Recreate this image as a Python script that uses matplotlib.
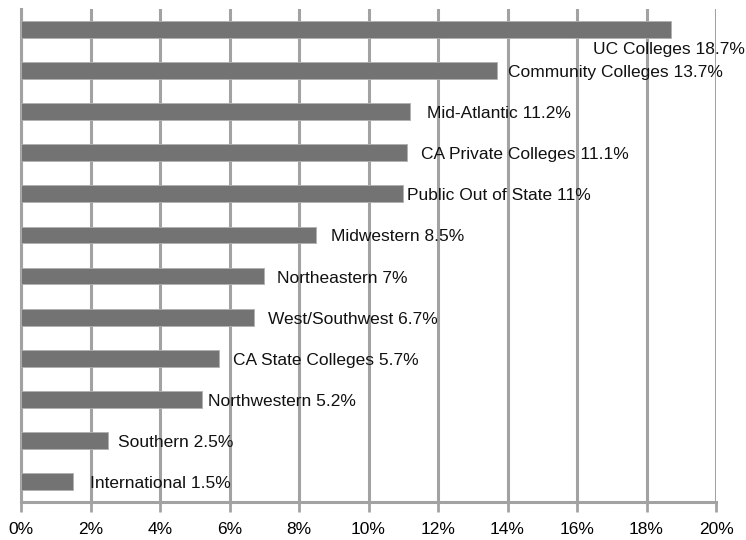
import matplotlib
matplotlib.use('Agg')
import matplotlib.pyplot as plt
from matplotlib.ticker import FuncFormatter, MultipleLocator

# Share of students by destination, bottom to top
categories = ['International', 'Southern', 'Northwestern', 'CA State Colleges',
              'West/Southwest', 'Northeastern', 'Midwestern', 'Public Out of State',
              'CA Private Colleges', 'Mid-Atlantic', 'Community Colleges', 'UC Colleges']
values = [1.5, 2.5, 5.2, 5.7, 6.7, 7, 8.5, 11, 11.1, 11.2, 13.7, 18.7]
value_text = ['1.5%', '2.5%', '5.2%', '5.7%', '6.7%', '7%', '8.5%', '11%',
              '11.1%', '11.2%', '13.7%', '18.7%']

# label offsets from bar end, in pixels (dx, dy)
label_dx = [17, 10, 6, 14, 14, 13, 15, 4, 14, 17, 11, 74]
label_dy = [-2, -2, -2, -2, -2, -2, -2, -2, -2, -2, -2, -20]

plt.rcParams['font.family'] = ['Liberation Sans', 'DejaVu Sans']
F = 12.5
grid_c = '#a2a2a2'
bar_c = '#737373'

fig = plt.figure(figsize=(7.46, 5.40), dpi=100)
ax = fig.add_axes([21/746, 38/540, 695/746, 493/540])

ax.xaxis.set_major_locator(MultipleLocator(2))
ax.grid(axis='x', color=grid_c, linewidth=2.2, zorder=0)
ax.set_axisbelow(True)

y = list(range(len(categories)))
ax.barh(y, values, height=0.41, color=bar_c, edgecolor='#b0b0b0', linewidth=0.6, zorder=3)

for i, v in enumerate(values):
    ha = 'right' if i == len(values) - 1 else 'left'
    ax.annotate('%s %s' % (categories[i], value_text[i]), xy=(v, i),
                xytext=(label_dx[i], label_dy[i]), textcoords='offset pixels',
                ha=ha, va='center', fontsize=F, color='#111111', zorder=4,
                annotation_clip=False)

ax.set_xlim(0, 20)
ax.set_ylim(-0.5, len(categories) - 0.5)
ax.set_yticks([])
ax.xaxis.set_major_formatter(FuncFormatter(lambda x, p: '%d%%' % x))
ax.tick_params(axis='x', length=7, width=2, color=grid_c, labelsize=F, pad=7.5)

for s in ['top', 'right']:
    ax.spines[s].set_visible(False)
for s in ['left', 'bottom']:
    ax.spines[s].set_color(grid_c)
    ax.spines[s].set_linewidth(2.2)

plt.savefig('out.png', dpi=100)
plt.close()
